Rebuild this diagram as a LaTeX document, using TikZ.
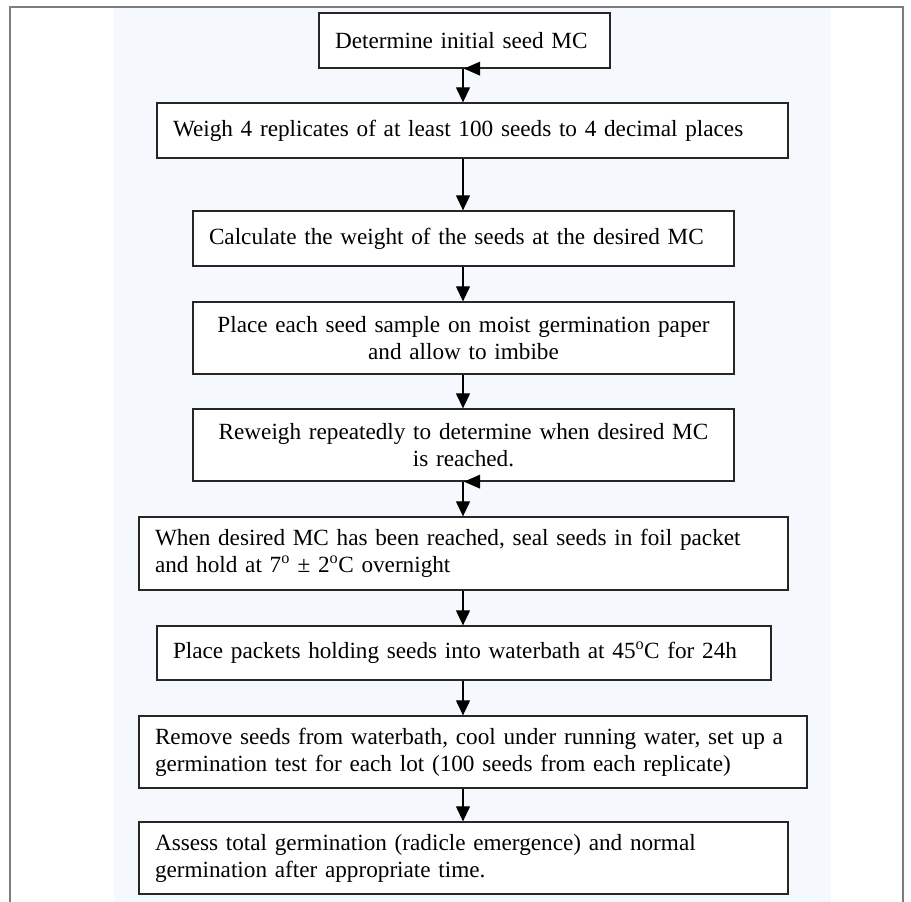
\documentclass[tikz,border=0pt]{standalone}
\usepackage{fontspec}
\setmainfont{Liberation Serif}
\usepackage{tikz}
\usetikzlibrary{arrows.meta}
\definecolor{paleblue}{RGB}{245,248,252}
\definecolor{framegray}{RGB}{125,125,125}

\begin{document}
\begin{tikzpicture}[x=1pt, y=-1pt,
  stepbox/.style={draw=black!85, line width=1.3pt, fill=white, inner xsep=16pt, inner ysep=0pt, align=left, font=\fontsize{23.2}{27}\selectfont},
  flow/.style={line width=1.2pt, -{Triangle[width=14pt,length=15pt]}}]
\useasboundingbox (0,0) rectangle (911,902);
\fill[paleblue] (114,8) rectangle (831,902);
\draw[framegray, line width=1.5pt] (10,902) -- (10,7) -- (903,7) -- (903,902);
\coordinate (axis) at (463,0);
\node[stepbox, text width=259pt, minimum height=55pt] (seedmc) at (464.5,40.5) {\mbox{Determine initial seed MC}};
\node[stepbox, text width=599pt, minimum height=55pt] (weigh) at (472.5,130.5) {\mbox{Weigh 4 replicates of at least 100 seeds to 4 decimal places}};
\node[stepbox, text width=509pt, minimum height=55pt] (calc) at (463.5,238.5) {\mbox{Calculate the weight of the seeds at the desired MC}};
\node[stepbox, text width=509pt, minimum height=72pt, align=center] (imbibe) at (463.5,338) {\mbox{Place each seed sample on moist germination paper}\\ and allow to imbibe};
\node[stepbox, text width=509pt, minimum height=72pt, align=center] (reweigh) at (463.5,445) {\mbox{Reweigh repeatedly to determine when desired MC}\\ is reached.};
\node[stepbox, text width=617pt, minimum height=73pt] (seal) at (463.5,553.5) {\mbox{When desired MC has been reached, seal seeds in foil packet}\\ \mbox{and hold at 7\textsuperscript{o} ± 2\textsuperscript{o}C overnight}};
\node[stepbox, text width=582pt, minimum height=54pt] (bath) at (464,653) {\mbox{Place packets holding seeds into waterbath at 45\textsuperscript{o}C for 24h}};
\node[stepbox, text width=636pt, minimum height=72pt] (cool) at (473,752) {\mbox{Remove seeds from waterbath, cool under running water, set up a}\\ \mbox{germination test for each lot (100 seeds from each replicate)}};
\node[stepbox, text width=617pt, minimum height=72pt] (assess) at (463.5,858) {\mbox{Assess total germination (radicle emergence) and normal}\\ \mbox{germination after appropriate time.}};
\foreach \a/\b in {seedmc/weigh, weigh/calc, calc/imbibe, imbibe/reweigh, reweigh/seal, seal/bath, bath/cool, cool/assess}
  \draw[flow] (\a.south -| axis) -- (\b.north -| axis);
% stray tips under two boxes
\foreach \a in {seedmc, reweigh}
  \fill ([xshift=1pt]\a.south -| axis) -- ++(16,-7) -- ++(0,14) -- cycle;
\end{tikzpicture}
\end{document}
